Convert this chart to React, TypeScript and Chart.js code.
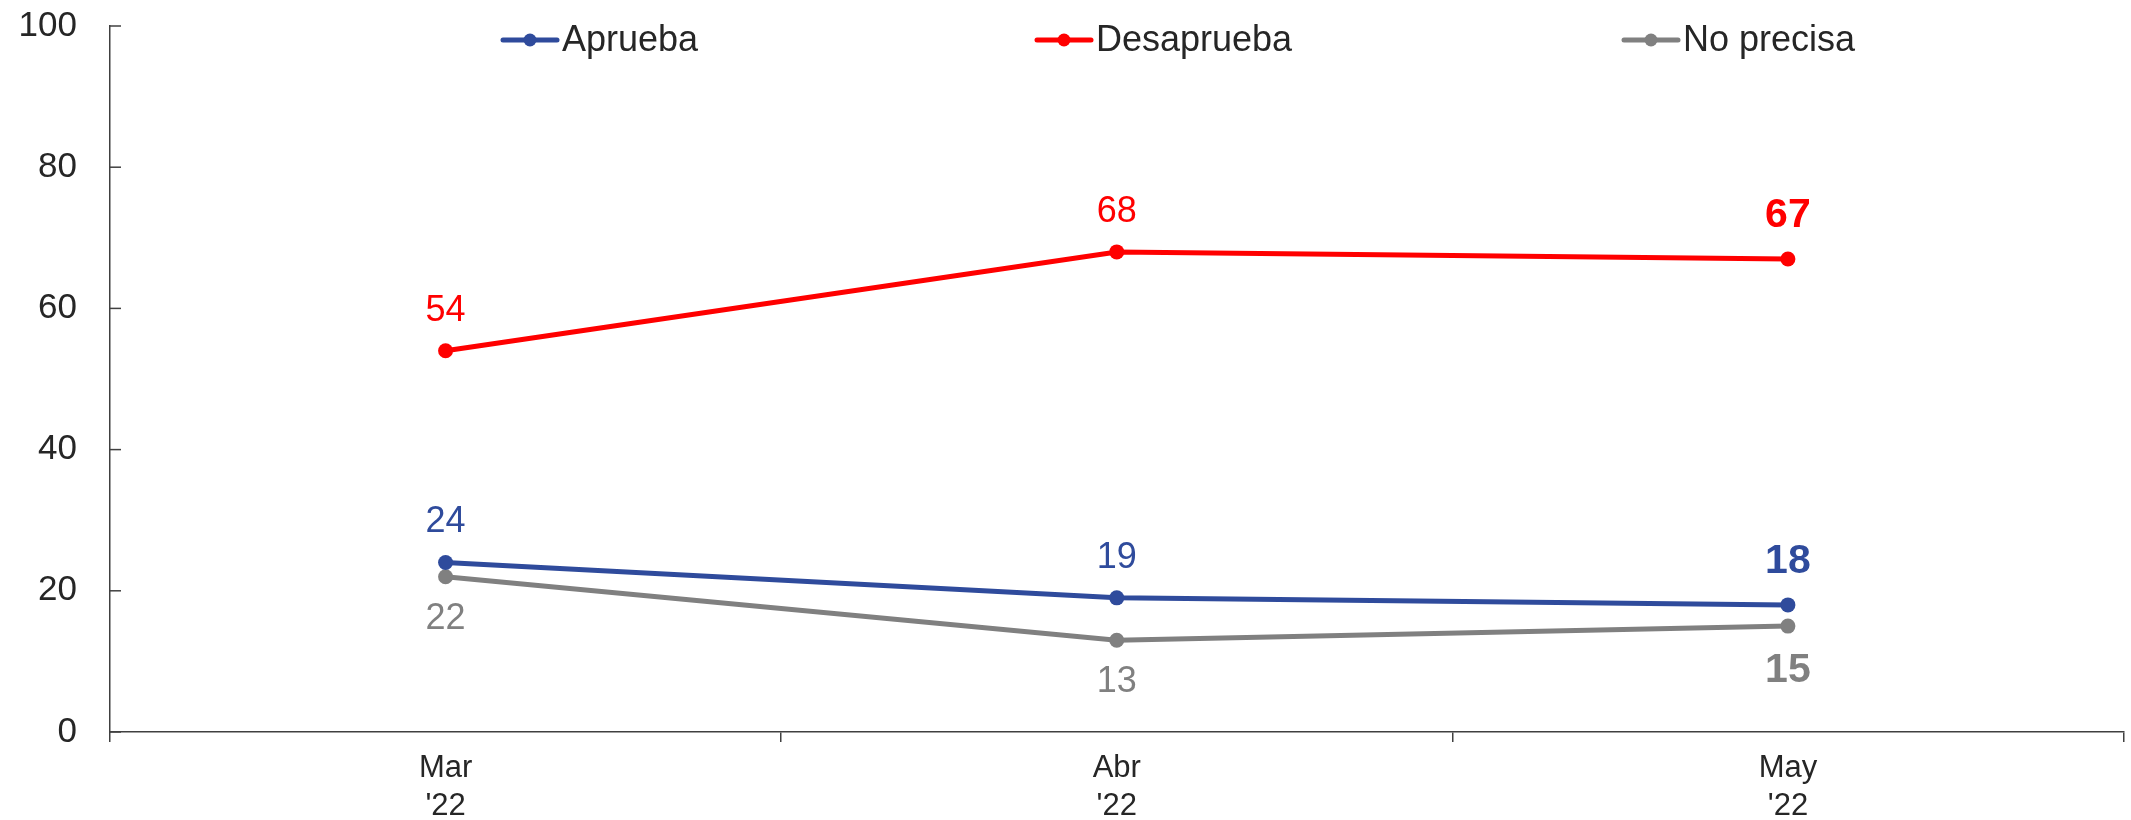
import React, { useEffect, useRef } from "react";
import { Chart, registerables } from "chart.js";

Chart.register(...registerables);

const categories: string[][] = [["Mar", "'22"], ["Abr", "'22"], ["May", "'22"]];
const aprueba: number[] = [24, 19, 18];
const desaprueba: number[] = [54, 68, 67];
const noPrecisa: number[] = [22, 13, 15];
const seriesNames: string[] = ["Aprueba", "Desaprueba", "No precisa"];
const seriesColors: string[] = ["#2F4B9C", "#FF0000", "#808080"];
const yTicks: number[] = [0, 20, 40, 60, 80, 100];

const FONT = "'Liberation Sans', Arial, sans-serif";
const TEXT = "#262626";

// label placement: -1 above, +1 below
const labelSide: number[] = [-1, -1, 1];

const dataLabelPlugin = {
  id: "dataLabels",
  afterDatasetsDraw(chart: any) {
    const ctx = chart.ctx;
    ctx.save();
    ctx.textAlign = "center";
    ctx.textBaseline = "middle";
    chart.data.datasets.forEach((ds: any, di: number) => {
      const meta = chart.getDatasetMeta(di);
      meta.data.forEach((pt: any, i: number) => {
        const last = i === meta.data.length - 1;
        ctx.fillStyle = ds.borderColor;
        ctx.font = (last ? "bold 41px " : "36px ") + FONT;
        const side = labelSide[di];
        const off = side < 0 ? (last ? 43 : 40) : (last ? 45 : 42);
        ctx.fillText(String(ds.data[i]), pt.x, pt.y + side * off);
      });
    });
    ctx.restore();
  },
};

const legendPlugin = {
  id: "customLegend",
  afterDraw(chart: any) {
    const ctx = chart.ctx;
    const xs = [503, 1037, 1624];
    const y = 40;
    ctx.save();
    chart.data.datasets.forEach((ds: any, di: number) => {
      const x0 = xs[di];
      ctx.strokeStyle = ds.borderColor;
      ctx.lineWidth = 5;
      ctx.lineCap = "round";
      ctx.beginPath();
      ctx.moveTo(x0, y);
      ctx.lineTo(x0 + 54, y);
      ctx.stroke();
      ctx.fillStyle = ds.borderColor;
      ctx.beginPath();
      ctx.arc(x0 + 27, y, 6.5, 0, Math.PI * 2);
      ctx.fill();
      ctx.fillStyle = TEXT;
      ctx.font = "36px " + FONT;
      ctx.textAlign = "left";
      ctx.textBaseline = "middle";
      ctx.fillText(ds.label, x0 + 59, y + 1);
    });
    ctx.restore();
  },
};

const yInnerTicks = {
  id: "yInnerTicks",
  afterDraw(chart: any) {
    const ctx = chart.ctx;
    const ys = chart.scales.y;
    const left = chart.chartArea.left;
    ctx.save();
    ctx.strokeStyle = "#404040";
    ctx.lineWidth = 1.5;
    yTicks.forEach((v) => {
      const py = ys.getPixelForValue(v);
      ctx.beginPath();
      ctx.moveTo(left, py);
      ctx.lineTo(left + 11, py);
      ctx.stroke();
    });
    ctx.restore();
  },
};

export default function App() {
  const ref = useRef<HTMLCanvasElement | null>(null);
  useEffect(() => {
    document.body.style.margin = "0";
    if (!ref.current) return;
    const data = [aprueba, desaprueba, noPrecisa];
    const chart = new Chart(ref.current, {
      type: "line",
      data: {
        labels: categories,
        datasets: data.map((d, i) => ({
          label: seriesNames[i],
          data: d,
          borderColor: seriesColors[i],
          backgroundColor: seriesColors[i],
          borderWidth: 5,
          pointRadius: 7.5,
          pointHoverRadius: 7.5,
          pointBorderWidth: 0,
          tension: 0,
        })),
      },
      options: {
        animation: false,
        responsive: true,
        maintainAspectRatio: false,
        layout: { padding: { top: 26, right: 4, left: 0, bottom: 0 } },
        plugins: { legend: { display: false }, tooltip: { enabled: false } },
        scales: {
          x: {
            offset: true,
            grid: {
              offset: true,
              drawOnChartArea: false,
              drawTicks: true,
              tickLength: 10,
              color: "#404040",
              lineWidth: 1.5,
            },
            border: { display: true, color: "#404040", width: 1.5 },
            ticks: {
              color: TEXT,
              font: { family: FONT, size: 31, lineHeight: 1.226 },
              padding: 7,
              maxRotation: 0,
            },
            afterFit(scale: any) {
              scale.height = 88;
              scale.paddingLeft = 0;
              scale.paddingRight = 0;
            },
          },
          y: {
            min: 0,
            max: 100,
            afterBuildTicks(scale: any) {
              scale.ticks = yTicks.map((v) => ({ value: v }));
            },
            grid: { display: false, drawTicks: false },
            border: { display: true, color: "#404040", width: 1.5 },
            ticks: {
              color: TEXT,
              font: { family: FONT, size: 35 },
              padding: 33,
            },
            afterFit(scale: any) {
              scale.width = 110;
              scale.paddingTop = 0;
              scale.paddingBottom = 0;
            },
          },
        },
      },
      plugins: [dataLabelPlugin, legendPlugin, yInnerTicks],
    });
    return () => chart.destroy();
  }, []);
  return (
    <div style={{ width: "2131px", height: "820px", position: "relative" }}>
      <canvas ref={ref} />
    </div>
  );
}
